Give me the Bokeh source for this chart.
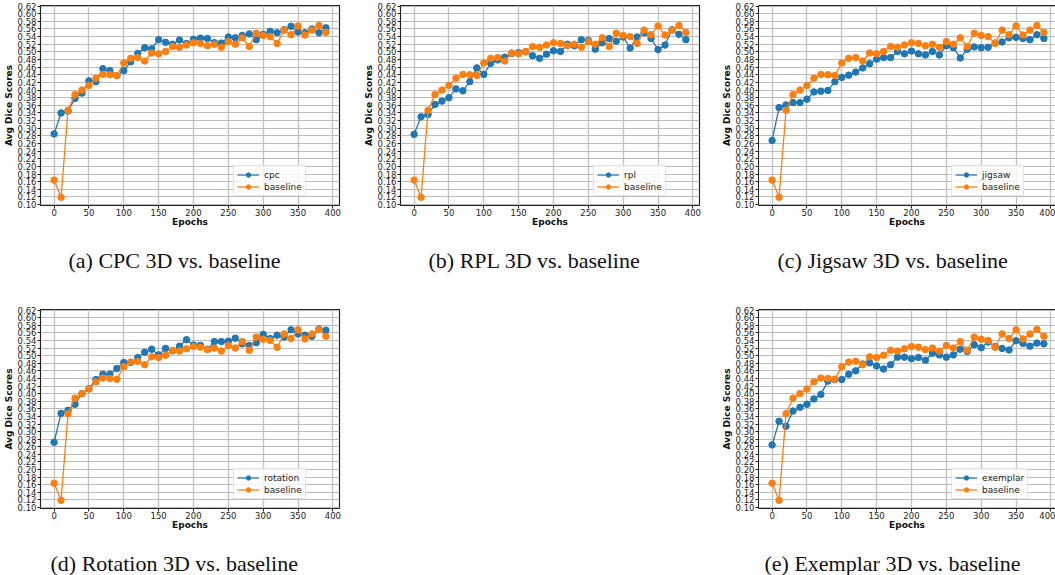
from bokeh.plotting import figure
from bokeh.models import (Range1d, FixedTicker, PrintfTickFormatter, Legend,
                          LegendItem, LinearAxis, Spacer, Title)
from bokeh.layouts import row, column
from bokeh.embed import file_html
from bokeh.resources import INLINE

epochs = [0, 10, 20, 30, 40, 50, 60, 70, 80, 90, 100, 110, 120, 130, 140, 150,
          160, 170, 180, 190, 200, 210, 220, 230, 240, 250, 260, 270, 280, 290,
          300, 310, 320, 330, 340, 350, 360, 370, 380, 390]

baseline = [0.164, 0.119, 0.347, 0.388, 0.400, 0.412, 0.431, 0.441, 0.440, 0.438,
            0.471, 0.483, 0.485, 0.476, 0.497, 0.495, 0.501, 0.514, 0.512, 0.518,
            0.524, 0.522, 0.516, 0.520, 0.512, 0.527, 0.520, 0.537, 0.514, 0.549,
            0.543, 0.540, 0.522, 0.557, 0.545, 0.568, 0.544, 0.557, 0.569, 0.551]

cpc = [0.285, 0.340, 0.345, 0.378, 0.392, 0.424, 0.422, 0.456, 0.451, 0.438,
       0.451, 0.474, 0.496, 0.511, 0.508, 0.532, 0.525, 0.520, 0.531, 0.522,
       0.533, 0.536, 0.535, 0.524, 0.523, 0.539, 0.537, 0.543, 0.547, 0.532,
       0.546, 0.554, 0.550, 0.558, 0.567, 0.552, 0.550, 0.560, 0.550, 0.563]

rpl = [0.284, 0.330, 0.336, 0.362, 0.371, 0.380, 0.403, 0.398, 0.422, 0.458,
       0.441, 0.470, 0.479, 0.486, 0.496, 0.498, 0.500, 0.490, 0.483, 0.494,
       0.503, 0.501, 0.520, 0.516, 0.532, 0.530, 0.507, 0.524, 0.535, 0.528,
       0.539, 0.510, 0.539, 0.550, 0.535, 0.506, 0.518, 0.558, 0.546, 0.532]

jigsaw = [0.268, 0.354, 0.361, 0.367, 0.367, 0.376, 0.395, 0.397, 0.399, 0.422,
          0.433, 0.439, 0.447, 0.458, 0.469, 0.481, 0.485, 0.485, 0.501, 0.495,
          0.502, 0.495, 0.492, 0.501, 0.492, 0.516, 0.511, 0.484, 0.507, 0.513,
          0.511, 0.512, 0.523, 0.526, 0.537, 0.538, 0.535, 0.532, 0.545, 0.535]

rotation = [0.272, 0.348, 0.356, 0.372, 0.400, 0.413, 0.437, 0.451, 0.451, 0.466,
            0.482, 0.482, 0.495, 0.509, 0.517, 0.502, 0.519, 0.513, 0.525, 0.542,
            0.528, 0.527, 0.517, 0.537, 0.537, 0.538, 0.546, 0.531, 0.527, 0.534,
            0.556, 0.545, 0.554, 0.549, 0.568, 0.557, 0.554, 0.551, 0.570, 0.567]

exemplar = [0.265, 0.327, 0.314, 0.354, 0.364, 0.372, 0.386, 0.398, 0.433, 0.437,
            0.437, 0.451, 0.460, 0.478, 0.481, 0.473, 0.465, 0.476, 0.496, 0.496,
            0.492, 0.495, 0.488, 0.506, 0.502, 0.496, 0.502, 0.517, 0.511, 0.529,
            0.521, 0.536, 0.524, 0.519, 0.515, 0.539, 0.532, 0.525, 0.533, 0.531]

x_ticks = [0, 50, 100, 150, 200, 250, 300, 350, 400]
y_ticks = [0.10, 0.12, 0.14, 0.16, 0.18, 0.20, 0.22, 0.24, 0.26, 0.28, 0.30,
           0.32, 0.34, 0.36, 0.38, 0.40, 0.42, 0.44, 0.46, 0.48, 0.50, 0.52,
           0.54, 0.56, 0.58, 0.60, 0.62]

y_label = "Avg Dice Scores"
x_label = "Epochs"
baseline_name = "baseline"

BLUE = "#1f77b4"
ORANGE = "#ff7f0e"
FRAME_W = 300
FRAME_H = 200
LEFT = 39
X_START, X_END = -19.5, 409.5
CAP_GAP = 12


def panel(name, vals, caption, cap_offset, width, height, top, cut=False):
    frame_w = width - LEFT if cut else FRAME_W
    x_end = X_START + frame_w * (X_END - X_START) / FRAME_W
    p = figure(width=width, height=height,
               x_range=Range1d(X_START, x_end), y_range=Range1d(0.0975, 0.6215),
               output_backend="svg", toolbar_location=None,
               min_border_left=LEFT, min_border_right=width - LEFT - frame_w,
               min_border_top=top, min_border_bottom=height - top - FRAME_H)
    p.background_fill_color = "white"
    p.border_fill_color = "white"

    l1 = p.line(epochs, vals, line_color=BLUE, line_width=1.3)
    s1 = p.scatter(epochs, vals, size=6.5, fill_color=BLUE, line_color=BLUE)
    l2 = p.line(epochs, baseline, line_color=ORANGE, line_width=1.3)
    s2 = p.scatter(epochs, baseline, size=6.5, fill_color=ORANGE, line_color=ORANGE)

    p.xaxis.ticker = FixedTicker(ticks=x_ticks)
    p.yaxis.ticker = FixedTicker(ticks=y_ticks)
    p.yaxis.formatter = PrintfTickFormatter(format="%.2f")
    for ax in (p.xaxis, p.yaxis):
        ax.major_label_text_font = "DejaVu Sans"
        ax.major_label_text_font_size = "8.5px"
        ax.major_label_text_color = "#222222"
        ax.major_tick_in = 0
        ax.major_tick_out = 3
        ax.minor_tick_out = 0
        ax.minor_tick_in = 0
        ax.axis_label_text_font = "DejaVu Sans"
        ax.axis_label_text_font_style = "bold"
        ax.axis_label_text_font_size = "9px"
        ax.axis_label_text_color = "#111111"
        ax.major_tick_line_color = "#222222"
    p.xaxis.major_label_standoff = 0
    p.xaxis.axis_label_standoff = -2
    p.yaxis.major_label_standoff = 1
    p.yaxis.axis_label_standoff = 1
    p.xaxis.axis_label = x_label
    p.yaxis.axis_label = y_label

    p.xgrid.grid_line_color = "#c4c4c4"
    p.xgrid.grid_line_width = 1.4
    p.ygrid.grid_line_color = "#bcbcbc"
    p.ygrid.grid_line_width = 1

    if cut:
        p.outline_line_color = None
        p.xaxis.axis_line_color = "#222222"
        p.yaxis.axis_line_color = "#222222"
        top_ax = LinearAxis(ticker=FixedTicker(ticks=[]), major_label_text_font_size="0px",
                            major_tick_out=0, major_tick_in=0, minor_tick_out=0,
                            minor_tick_in=0, major_label_standoff=0,
                            axis_line_color="#222222")
        p.add_layout(top_ax, "above")
    else:
        p.xaxis.axis_line_color = None
        p.yaxis.axis_line_color = None
        p.outline_line_color = "#222222"
        p.outline_line_width = 1.2

    leg = Legend(items=[LegendItem(label=name, renderers=[l1, s1]),
                        LegendItem(label=baseline_name, renderers=[l2, s2])],
                 location=(193, 9), orientation="vertical",
                 label_text_font="DejaVu Sans", label_text_font_size="9px",
                 label_text_color="#222222",
                 glyph_width=22, glyph_height=11, label_height=11,
                 label_standoff=5, padding=3, spacing=1, margin=0,
                 border_line_color="#cccccc", border_line_width=1,
                 background_fill_alpha=0.8)
    p.add_layout(leg)

    # invisible spacer axis between the x axis and the caption
    gap = LinearAxis(ticker=FixedTicker(ticks=[]), major_label_text_font_size="0px",
                     major_tick_out=0, major_tick_in=0, minor_tick_out=0,
                     minor_tick_in=0, major_label_standoff=0,
                     axis_label=" ", axis_label_text_font_size="1px",
                     axis_label_standoff=CAP_GAP,
                     axis_line_color=None, major_tick_line_color=None)
    p.add_layout(gap, "below")
    p.add_layout(Title(text=caption, align="left", offset=cap_offset, standoff=0,
                       text_font="Liberation Serif", text_font_size="22px",
                       text_font_style="normal", text_color="#111111"), "below")
    return p


f1 = panel("cpc", cpc, "(a) CPC 3D vs. baseline", 28, 360, 305, 5)
f2 = panel("rpl", rpl, "(b) RPL 3D vs. baseline", 28, 358, 305, 5)
f3 = panel("jigsaw", jigsaw, "(c) Jigsaw 3D vs. baseline", 19, 337, 305, 5, cut=True)
f4 = panel("rotation", rotation, "(d) Rotation 3D vs. baseline", 10, 360, 270, 4)
f5 = panel("exemplar", exemplar, "(e) Exemplar 3D vs. baseline", 6, 337, 270, 4, cut=True)

layout = column(row(f1, f2, f3),
                row(f4, Spacer(width=358, height=270), f5))

open("out.html", "w").write(file_html(layout, INLINE))
